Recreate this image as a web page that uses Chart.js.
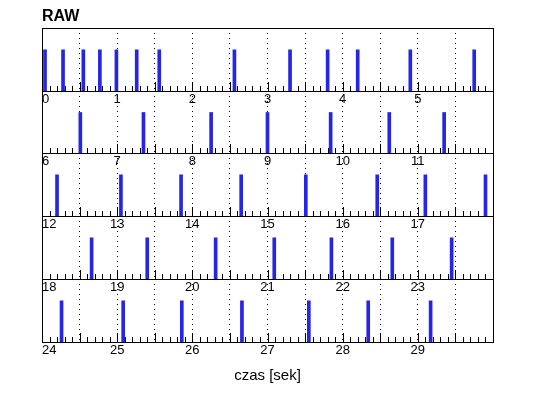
<!DOCTYPE html>
<html lang="pl">
<head>
  <meta charset="UTF-8" />
  <title>RAW</title>
  <script src="https://cdn.jsdelivr.net/npm/chart.js"></script>
  <style>
    body { margin: 0; background: #fff; }
    #wrap { position: relative; width: 538px; height: 398px; background: #fff; }
    #wrap canvas { position: absolute; left: 0; top: 0; }
  </style>
</head>
<body>
  <div id="wrap"></div>

  <script>
    // czasy impulsow [sek], jeden wiersz na panel
    const spikes1 = [0.04, 0.28, 0.55, 0.77, 0.99, 1.26, 1.56, 2.56, 3.30, 3.80, 4.20, 4.90, 5.75];
    const spikes2 = [6.51, 7.35, 8.25, 9.00, 9.84, 10.62, 11.35];
    const spikes3 = [12.20, 13.05, 13.85, 14.65, 15.51, 16.46, 17.10, 17.90];
    const spikes4 = [18.66, 19.40, 20.31, 21.09, 21.85, 22.66, 23.45];
    const spikes5 = [24.26, 25.08, 25.86, 26.66, 27.55, 28.34, 29.17];
    const rows = [spikes1, spikes2, spikes3, spikes4, spikes5];
    const rowStart = [0, 6, 12, 18, 24];
    const rowLength = 6;
    const spikeValue = 1;

    const W = 538, H = 398;
    const edges = [28, 91, 153, 216, 279, 342];
    const font = "'Liberation Sans', Arial, sans-serif";

    const isHalf = v => Math.abs(v * 2 - Math.round(v * 2)) < 1e-6;
    const isWhole = v => Math.abs(v - Math.round(v)) < 1e-6;

    // ramka panelu + kreski podzialki skierowane do srodka
    const framePlugin = {
      id: 'frame',
      beforeDatasetsDraw(chart) {
        const { ctx, chartArea: a, scales: { x } } = chart;
        ctx.save();
        ctx.strokeStyle = '#000';
        ctx.lineWidth = 1;
        ctx.beginPath();
        x.ticks.forEach(t => {
          const px = Math.round(x.getPixelForValue(t.value)) + 0.5;
          const len = isHalf(t.value) ? 9 : 5;
          ctx.moveTo(px, a.bottom);
          ctx.lineTo(px, a.bottom - len);
        });
        ctx.stroke();
        ctx.restore();
      },
      afterDatasetsDraw(chart) {
        const { ctx, chartArea: a } = chart;
        ctx.save();
        ctx.strokeStyle = '#000';
        ctx.lineWidth = 1;
        ctx.strokeRect(a.left + 0.5, a.top + 0.5, a.right - a.left, a.bottom - a.top);
        ctx.restore();
      }
    };

    rows.forEach((row, i) => {
      const canvas = document.createElement('canvas');
      canvas.width = W;
      canvas.height = H;
      document.getElementById('wrap').appendChild(canvas);

      const min = rowStart[i];
      const max = rowStart[i] + rowLength;
      const last = i === rows.length - 1;
      const axisH = last ? 50 : 20;

      new Chart(canvas.getContext('2d'), {
        type: 'bar',
        data: {
          datasets: [{
            data: row.map(t => ({ x: t, y: spikeValue })),
            backgroundColor: '#2525e6',
            barThickness: 3,
            borderWidth: 0
          }]
        },
        options: {
          responsive: false,
          animation: false,
          events: [],
          layout: {
            padding: { left: 42, right: 45, top: i === 0 ? 0 : edges[i], bottom: H - edges[i + 1] - axisH }
          },
          plugins: {
            legend: { display: false },
            tooltip: { enabled: false },
            title: {
              display: i === 0,
              text: 'RAW',
              align: 'start',
              color: '#000',
              font: { family: font, size: 16, weight: 'bold', lineHeight: 1.25 },
              padding: { top: 7, bottom: 1 }
            }
          },
          scales: {
            x: {
              type: 'linear',
              min: min,
              max: max,
              offset: false,
              afterBuildTicks: scale => {
                const ticks = [];
                for (let k = 0; k <= rowLength * 10; k++) ticks.push({ value: (min * 10 + k) / 10 });
                scale.ticks = ticks;
              },
              afterFit: scale => { scale.height = axisH; },
              grid: {
                offset: false,
                drawTicks: false,
                color: c => (c.tick && isHalf(c.tick.value) ? '#000' : 'transparent')
              },
              border: { display: false, dash: [1, 4] },
              ticks: {
                autoSkip: false,
                maxRotation: 0,
                align: 'inner',
                padding: 1,
                color: '#000',
                font: { family: font, size: 13 },
                callback: v => (isWhole(v) && v < max - 1e-6 ? String(Math.round(v)) : '')
              },
              title: {
                display: last,
                text: 'czas [sek]',
                color: '#000',
                font: { family: font, size: 15 },
                padding: { top: 0, bottom: 7 }
              }
            },
            y: {
              display: false,
              min: 0,
              max: 1.53
            }
          }
        },
        plugins: [framePlugin]
      });
    });
  </script>
</body>
</html>
